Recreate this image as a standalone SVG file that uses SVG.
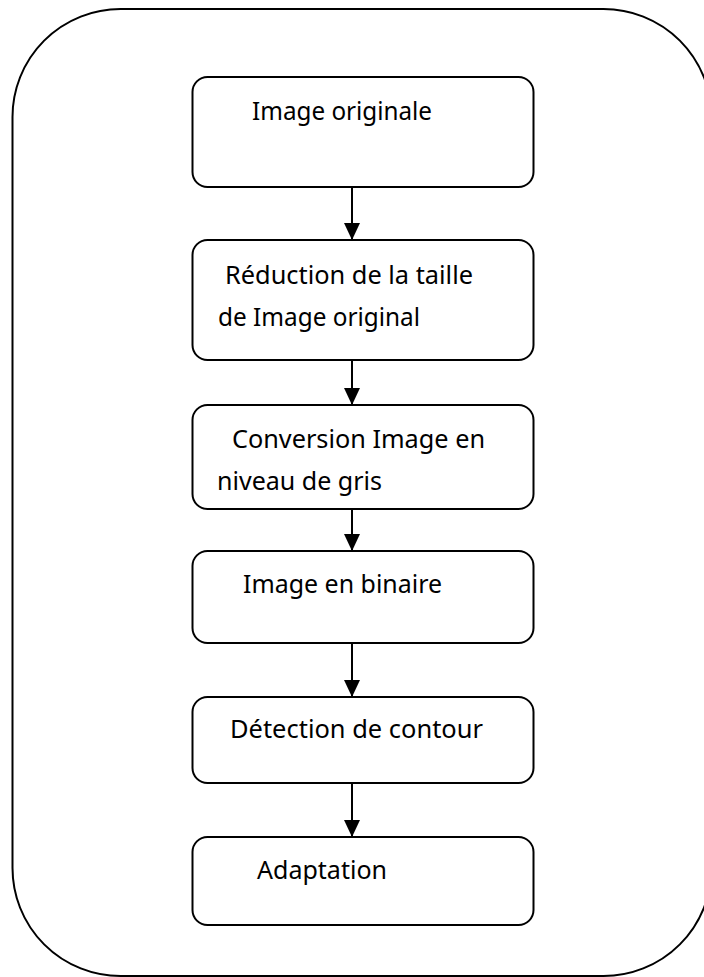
<svg xmlns="http://www.w3.org/2000/svg" width="704" height="977" viewBox="0 0 704 977">
<style>
.outer{fill:none;stroke:#000;stroke-width:2}
.box{fill:#fff;stroke:#000;stroke-width:2}
.lbl{font-family:"Noto Sans","Liberation Sans",sans-serif;font-size:25px;fill:#000}
.conn{stroke:#000;stroke-width:2;fill:none}
</style>
<defs>
<marker id="ah" markerUnits="userSpaceOnUse" markerWidth="18" markerHeight="16" viewBox="0 0 18 16" refX="17" refY="8" orient="auto">
<path d="M0,0 L17,8 L0,16 Z" fill="#000"/>
</marker>
</defs>
<rect id="frame" class="outer" x="12.5" y="9" width="699" height="967" rx="108" ry="108"/>
<g id="connectors">
<line class="conn" x1="352" y1="187" x2="352" y2="240" marker-end="url(#ah)"/>
<line class="conn" x1="352" y1="360" x2="352" y2="405" marker-end="url(#ah)"/>
<line class="conn" x1="352" y1="509" x2="352" y2="551" marker-end="url(#ah)"/>
<line class="conn" x1="352" y1="643" x2="352" y2="697" marker-end="url(#ah)"/>
<line class="conn" x1="352" y1="783" x2="352" y2="837" marker-end="url(#ah)"/>
</g>
<g id="n1">
<rect class="box" x="192.5" y="77" width="341" height="110" rx="15"/>
<text class="lbl" x="252" y="120" textLength="180" lengthAdjust="spacingAndGlyphs">Image originale</text>
</g>
<g id="n2">
<rect class="box" x="192.5" y="240" width="341" height="120" rx="15"/>
<text class="lbl" x="225" y="284" textLength="248" lengthAdjust="spacingAndGlyphs">Réduction de la taille</text>
<text class="lbl" x="218" y="326" textLength="202" lengthAdjust="spacingAndGlyphs">de Image original</text>
</g>
<g id="n3">
<rect class="box" x="192.5" y="405" width="341" height="104" rx="15"/>
<text class="lbl" x="232" y="448" textLength="253" lengthAdjust="spacingAndGlyphs">Conversion  Image en</text>
<text class="lbl" x="217" y="490" textLength="165" lengthAdjust="spacingAndGlyphs">niveau de gris</text>
</g>
<g id="n4">
<rect class="box" x="192.5" y="551" width="341" height="92" rx="15"/>
<text class="lbl" x="243" y="593" textLength="199" lengthAdjust="spacingAndGlyphs">Image en binaire</text>
</g>
<g id="n5">
<rect class="box" x="192.5" y="697" width="341" height="86" rx="15"/>
<text class="lbl" x="230" y="738" textLength="253" lengthAdjust="spacingAndGlyphs">Détection de contour</text>
</g>
<g id="n6">
<rect class="box" x="192.5" y="837" width="341" height="88" rx="15"/>
<text class="lbl" x="257" y="879" textLength="130" lengthAdjust="spacingAndGlyphs">Adaptation</text>
</g>
</svg>
